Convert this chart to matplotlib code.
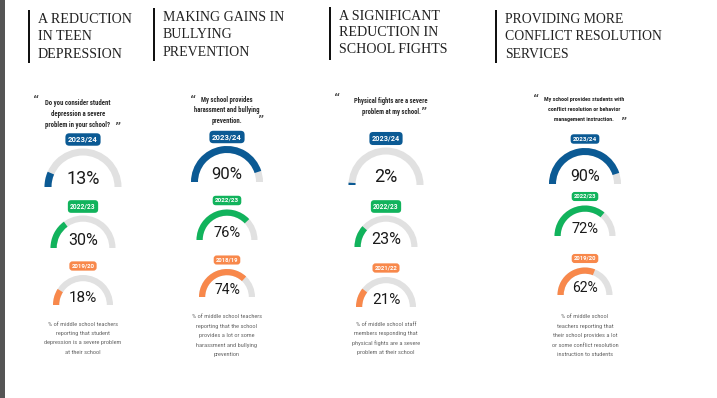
import matplotlib
matplotlib.use("Agg")
import matplotlib.pyplot as plt
from matplotlib.patches import Wedge, Rectangle

# ---- data ----
headers = [
    "A REDUCTION\nIN TEEN\nDEPRESSION",
    "MAKING GAINS IN\nBULLYING\nPREVENTION",
    "A SIGNIFICANT\nREDUCTION IN\nSCHOOL FIGHTS",
    "PROVIDING MORE\nCONFLICT RESOLUTION\nSERVICES",
]
questions = [
    ["Do you consider student", "depression a severe", "problem in your school?"],
    ["My school provides", "harassment and bullying", "prevention."],
    ["Physical fights are a severe", "problem at my school."],
    ["My school provides students with", "conflict resolution or behavior", "management instruction."],
]
years = [
    ["2023/24", "2022/23", "2019/20"],
    ["2023/24", "2022/23", "2018/19"],
    ["2023/24", "2022/23", "2021/22"],
    ["2023/24", "2022/23", "2019/20"],
]
values = [
    [13, 30, 18],
    [90, 76, 74],
    [2, 23, 21],
    [90, 72, 62],
]
captions = [
    ["% of middle school teachers", "reporting that student",
     "depression is a severe problem", "at their school"],
    ["% of middle school teachers", "reporting that the school",
     "provides a lot or some", "harassment and bullying", "prevention"],
    ["% of middle school staff", "members responding that",
     "physical fights are a severe", "problem at their school"],
    ["% of middle school", "teachers reporting that",
     "their school provides a lot", "or some conflict resolution",
     "instruction to students"],
]

# ---- layout (pixels) ----
col_x = [83, 227, 386, 585]
bar_x = [29, 154, 330, 496]
header_top = [13, 11, 10, 13]
header_size = [10.1, 10.0, 10.1, 9.9]
header_ls = [1.45, 1.45, 1.33, 1.45]
quote_x = [78, 227, 391, 584]
quote_y0 = [103, 100, 101, 100]
quote_step = [11, 10.5, 11, 9.5]
quote_size = [4.9, 4.8, 4.8, 4.3]
open_q = [(36, 100), (193, 100), (337, 98), (536, 99)]
close_q = [(117, 127), (260, 120), (423, 112), (623, 122)]
gauge_base = [[187, 248, 305], [182, 240, 297], [185, 247, 307], [184, 236, 295]]
gauge_r = [[38.5, 32.5, 30], [36, 30.5, 28], [37.5, 31.5, 30], [36, 30.5, 27.5]]
pct_size = [[13, 11.5, 11], [12, 10.5, 10], [13, 11.5, 11], [11.5, 10.5, 10]]
badge_size = [[5.6, 4.8, 4.4], [5.6, 4.6, 4.2], [5.2, 4.8, 4.4], [4.6, 4.2, 4.2]]
caption_y0 = [324, 317, 324, 317]

colors = ["#0b5a94", "#11b35c", "#f8884b"]
track = "#e1e1e1"
narrow = ['Roboto Condensed', 'DejaVu Sans']

plt.rcParams['font.family'] = ['Roboto', 'DejaVu Sans']

fig = plt.figure(figsize=(7.17, 3.98), dpi=100)
ax = fig.add_axes([0, 0, 1, 1])
ax.set_xlim(0, 717)
ax.set_ylim(398, 0)
ax.axis('off')

# grey strip on the left edge
ax.add_patch(Rectangle((0, 0), 5, 398, color="#555555", lw=0))

for c in range(4):
    cx = col_x[c]
    # header bar and title
    ax.add_patch(Rectangle((bar_x[c] - 1, header_top[c] - 3), 2.2, 53, color="#111111", lw=0))
    ax.text(bar_x[c] + 9, header_top[c], headers[c], ha='left', va='top',
            fontsize=header_size[c], family=['Liberation Serif', 'DejaVu Serif'],
            color="#222222", linespacing=header_ls[c])

    # quote
    for i, line in enumerate(questions[c]):
        ax.text(quote_x[c], quote_y0[c] + i * quote_step[c], line,
                ha='center', va='center', fontsize=quote_size[c], fontweight='bold',
                family=narrow, fontstretch='condensed', color="#2a2a2a")
    ax.text(open_q[c][0], open_q[c][1], "\u201c", ha='center', va='center',
            fontsize=7, color="#555555", fontweight='bold', family='DejaVu Sans')
    ax.text(close_q[c][0], close_q[c][1], "\u201d", ha='center', va='center',
            fontsize=7, color="#555555", fontweight='bold', family='DejaVu Sans')

    # gauges
    for g in range(3):
        base = gauge_base[c][g]
        r = gauge_r[c][g]
        w = 7 if g == 0 else 6.2
        v = values[c][g]
        ax.add_patch(Wedge((cx, base), r, 180, 360, width=w, color=track, lw=0))
        ax.add_patch(Wedge((cx, base), r, 180, 180 + 180 * v / 100, width=w,
                           color=colors[g], lw=0))
        ax.text(cx, base - 3, f"{v}%", ha='center', va='baseline',
                fontsize=pct_size[c][g], color="#1a1a1a")
        ax.text(cx, base - r - 9, years[c][g], ha='center', va='center',
                fontsize=badge_size[c][g], color='white', fontweight='bold',
                bbox=dict(boxstyle='round,pad=0.35,rounding_size=0.5',
                          fc=colors[g], ec='none'))

    # caption
    for i, line in enumerate(captions[c]):
        ax.text(cx, caption_y0[c] + i * 9.4, line, ha='center', va='center',
                fontsize=4.6, family=narrow, fontstretch='condensed',
                color="#666666")

fig.savefig("out.png", dpi=100)
